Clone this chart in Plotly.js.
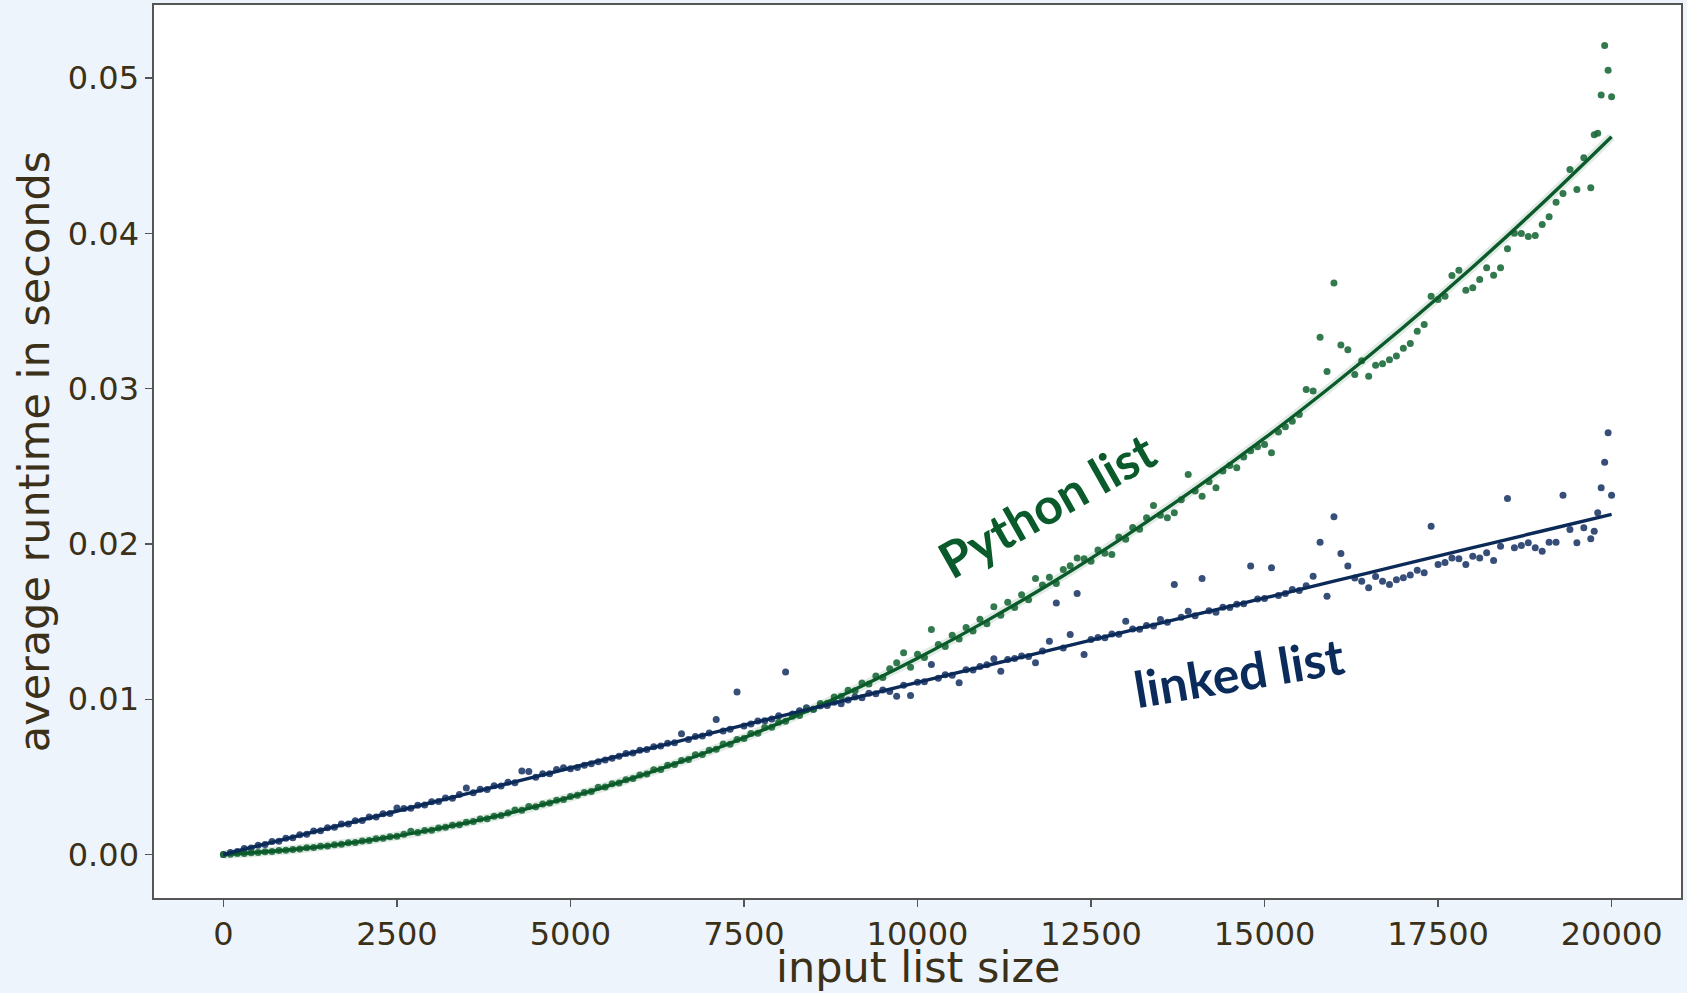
<!DOCTYPE html>
<html>
<head>
<meta charset="utf-8">
<script src="https://cdn.plot.ly/plotly-3.0.1.min.js"></script>
<style>
  html, body { margin: 0; padding: 0; background: #eef4fc; }
  #chart { width: 1687px; height: 993px; }
</style>
</head>
<body>
<div id="chart"></div>
<script>
// input list sizes (x values of the measured points)
const sizes = [
  0,100,200,300,400,500,600,700,800,900,
  1000,1100,1200,1300,1400,1500,1600,1700,1800,1900,
  2000,2100,2200,2300,2400,2500,2600,2700,2800,2900,
  3000,3100,3200,3300,3400,3500,3600,3700,3800,3900,
  4000,4100,4200,4300,4400,4500,4600,4700,4800,4900,
  5000,5100,5200,5300,5400,5500,5600,5700,5800,5900,
  6000,6100,6200,6300,6400,6500,6600,6700,6800,6900,
  7000,7100,7200,7300,7400,7500,7600,7700,7800,7900,
  8000,8100,8200,8300,8400,8500,8600,8700,8800,8900,
  9000,9100,9200,9300,9400,9500,9600,9700,9800,9900,
  10000,10100,10200,10300,10400,10500,10600,10700,10800,10900,
  11000,11100,11200,11300,11400,11500,11600,11700,11800,11900,
  12000,12100,12200,12300,12400,12500,12600,12700,12800,12900,
  13000,13100,13200,13300,13400,13500,13600,13700,13800,13900,
  14000,14100,14200,14300,14400,14500,14600,14700,14800,14900,
  15000,15100,15200,15300,15400,15500,15600,15700,15800,15900,
  16000,16100,16200,16300,16400,16500,16600,16700,16800,16900,
  17000,17100,17200,17300,17400,17500,17600,17700,17800,17900,
  18000,18100,18200,18300,18400,18500,18600,18700,18800,18900,
  19000,19100,19200,19300,19400,19500,19600,19700,
  19750,19800,19850,19900,19950,20000
];

// average runtime (s), Python list
const pythonList = [
  0.00000,0.00002,0.00006,0.00007,0.00012,0.00013,0.00018,0.00019,0.00026,0.00027,
  0.00033,0.00035,0.00043,0.00045,0.00053,0.00055,0.00063,0.00066,0.00075,0.00078,
  0.00087,0.00090,0.00101,0.00104,0.00114,0.00118,0.00130,0.00149,0.00141,0.00154,
  0.00157,0.00171,0.00175,0.00189,0.00192,0.00207,0.00212,0.00228,0.00231,0.00247,
  0.00252,0.00268,0.00286,0.00285,0.00309,0.00307,0.00325,0.00331,0.00349,0.00355,
  0.00374,0.00381,0.00399,0.00406,0.00433,0.00434,0.00455,0.00460,0.00482,0.00489,
  0.00512,0.00518,0.00545,0.00548,0.00574,0.00579,0.00606,0.00611,0.00642,0.00644,
  0.00672,0.00677,0.00712,0.00710,0.00741,0.00747,0.00779,0.00781,0.00818,0.00820,
  0.00852,0.00858,0.00890,0.00895,0.00932,0.00936,0.00972,0.00974,0.01015,0.01017,
  0.01058,0.01055,0.01105,0.01098,0.01150,0.01140,0.01196,0.01234,0.01299,0.01205,
  0.01290,0.01268,0.01449,0.01352,0.01340,0.01412,0.01388,0.01461,0.01440,0.01515,
  0.01486,0.01595,0.01540,0.01625,0.01590,0.01672,0.01640,0.01777,0.01735,0.01785,
  0.01745,0.01835,0.01860,0.01910,0.01905,0.01888,0.01960,0.01940,0.01932,0.02045,
  0.02030,0.02105,0.02095,0.02168,0.02247,0.02185,0.02168,0.02200,0.02285,0.02447,
  0.02340,0.02307,0.02400,0.02361,0.02470,0.02505,0.02490,0.02560,0.02600,0.02625,
  0.02640,0.02587,0.02720,0.02755,0.02790,0.02833,0.02995,0.02985,0.03330,0.03110,
  0.03680,0.03280,0.03250,0.03090,0.03180,0.03080,0.03150,0.03160,0.03185,0.03210,
  0.03260,0.03290,0.03370,0.03413,0.03595,0.03574,0.03595,0.03728,0.03762,0.03634,
  0.03650,0.03703,0.03778,0.03730,0.03778,0.03900,0.04000,0.03999,0.03980,0.03986,
  0.04057,0.04106,0.04200,0.04256,0.04410,0.04282,0.04486,0.04293,
  0.04635,0.04645,0.04890,0.05210,0.05050,0.04880
];

// average runtime (s), linked list
const linkedList = [
  0.00000,0.00013,0.00020,0.00038,0.00042,0.00060,0.00064,0.00083,0.00086,0.00104,
  0.00108,0.00128,0.00131,0.00152,0.00153,0.00172,0.00175,0.00196,0.00197,0.00218,
  0.00219,0.00241,0.00242,0.00263,0.00264,0.00300,0.00296,0.00298,0.00318,0.00319,
  0.00340,0.00341,0.00364,0.00363,0.00386,0.00429,0.00398,0.00420,0.00419,0.00442,
  0.00441,0.00466,0.00462,0.00537,0.00535,0.00498,0.00520,0.00520,0.00548,0.00558,
  0.00552,0.00560,0.00575,0.00585,0.00597,0.00608,0.00620,0.00632,0.00650,0.00654,
  0.00672,0.00676,0.00694,0.00698,0.00717,0.00719,0.00777,0.00741,0.00760,0.00763,
  0.00782,0.00869,0.00795,0.00806,0.01047,0.00828,0.00840,0.00860,0.00862,0.00872,
  0.00893,0.01176,0.00905,0.00926,0.00945,0.00935,0.00958,0.00960,0.00981,0.00970,
  0.00995,0.01015,0.01010,0.01038,0.01035,0.01060,0.01050,0.01019,0.01090,0.01024,
  0.01110,0.01112,0.01223,0.01135,0.01158,0.01155,0.01106,0.01190,0.01188,0.01210,
  0.01222,0.01260,0.01180,0.01255,0.01262,0.01278,0.01275,0.01234,0.01310,0.01374,
  0.01620,0.01330,0.01417,0.01680,0.01288,0.01385,0.01398,0.01395,0.01420,0.01418,
  0.01502,0.01452,0.01450,0.01474,0.01472,0.01513,0.01495,0.01739,0.01528,0.01567,
  0.01538,0.01777,0.01570,0.01560,0.01592,0.01590,0.01612,0.01615,0.01857,0.01645,
  0.01648,0.01846,0.01668,0.01680,0.01706,0.01700,0.01730,0.01792,0.02010,0.01663,
  0.02175,0.01938,0.01857,0.01780,0.01760,0.01717,0.01790,0.01760,0.01739,0.01770,
  0.01782,0.01800,0.01830,0.01814,0.02114,0.01867,0.01880,0.01910,0.01905,0.01867,
  0.01920,0.01910,0.01943,0.01893,0.01985,0.02292,0.01975,0.01990,0.02007,0.01975,
  0.01953,0.02010,0.02010,0.02314,0.02093,0.02007,0.02104,0.02033,
  0.02082,0.02200,0.02361,0.02526,0.02715,0.02314
];

// fitted curves
const fitSizes = [0,1000,2000,3000,4000,5000,6000,7000,8000,9000,10000,
                  11000,12000,13000,14000,15000,16000,17000,18000,19000,20000];
const pythonFit = [0,0.00032,0.00085,0.00159,0.00254,0.00370,0.00507,0.00665,0.00844,0.01043,0.01264,
                   0.01506,0.01768,0.02052,0.02356,0.02681,0.03028,0.03395,0.03783,0.04192,0.04622];
const linkedFit = [0,0.00112,0.00224,0.00335,0.00446,0.00557,0.00668,0.00778,0.00888,0.00998,0.01108,
                   0.01217,0.01326,0.01435,0.01544,0.01652,0.01760,0.01868,0.01976,0.02083,0.02190];

// axes
const xTickVals = [0,2500,5000,7500,10000,12500,15000,17500,20000];
const xTickText = ['0','2500','5000','7500','10000','12500','15000','17500','20000'];
const yTickVals = [0,0.01,0.02,0.03,0.04,0.05];
const yTickText = ['0.00','0.01','0.02','0.03','0.04','0.05'];

// labels
const seriesLabels = ['Python list', 'linked list'];
const xTitle = 'input list size';
const yTitle = 'average runtime in seconds';

const GREEN_PT = '#1d6a3b', GREEN_LN = '#0b5a2a', GREEN_TXT = '#0b5a2b';
const NAVY_PT = '#203b69', NAVY_LN = '#0c2a58', NAVY_TXT = '#0b2c5a';
const TXT = '#3b3018';

const traces = [
  { x: fitSizes, y: pythonFit, mode: 'lines', line: {color: 'rgba(11,90,42,0.12)', width: 9, shape: 'spline'}, hoverinfo: 'skip', showlegend: false },
  { x: sizes, y: linkedList, mode: 'markers', name: seriesLabels[1],
    marker: {color: NAVY_PT, size: 7, opacity: 0.9, line: {width: 0}}, showlegend: false },
  { x: sizes, y: pythonList, mode: 'markers', name: seriesLabels[0],
    marker: {color: GREEN_PT, size: 7, opacity: 0.9, line: {width: 0}}, showlegend: false },
  { x: fitSizes, y: pythonFit, mode: 'lines', line: {color: GREEN_LN, width: 3.4, shape: 'spline'}, showlegend: false },
  { x: fitSizes, y: linkedFit, mode: 'lines', line: {color: NAVY_LN, width: 3.4, shape: 'spline'}, showlegend: false }
];

const layout = {
  width: 1687, height: 993,
  paper_bgcolor: '#eef4fc',
  plot_bgcolor: '#ffffff',
  margin: {l: 154, r: 6, t: 5, b: 95, pad: 0},
  showlegend: false,
  font: {family: 'DejaVu Sans, sans-serif', color: TXT, size: 32},
  xaxis: {
    range: [-1000, 21000],
    tickmode: 'array', tickvals: xTickVals, ticktext: xTickText,
    ticks: 'outside', ticklen: 7, tickwidth: 1.2, tickcolor: '#555',
    showline: true, linecolor: '#555', linewidth: 1.6, mirror: true,
    showgrid: false, zeroline: false,
    tickfont: {family: 'DejaVu Sans', size: 32, color: TXT}
  },
  yaxis: {
    range: [-0.0028, 0.0547],
    tickmode: 'array', tickvals: yTickVals, ticktext: yTickText,
    ticks: 'outside', ticklen: 7, tickwidth: 1.2, tickcolor: '#555',
    showline: true, linecolor: '#555', linewidth: 1.6, mirror: true,
    showgrid: false, zeroline: false,
    tickfont: {family: 'DejaVu Sans', size: 32, color: TXT},
    title: {text: yTitle, font: {family: 'DejaVu Sans', size: 43, color: TXT}, standoff: 5}
  },
  annotations: [
    { x: 0.5, y: -0.1064, xref: 'paper', yref: 'paper', text: xTitle,
      showarrow: false, xanchor: 'center', yanchor: 'bottom', borderpad: 0,
      font: {family: 'DejaVu Sans', size: 43, color: TXT} },
    { x: 11856, y: 0.02252, xref: 'x', yref: 'y', text: '<b>' + seriesLabels[0] + '</b>',
      showarrow: false, textangle: -29.5, xanchor: 'center', yanchor: 'middle',
      font: {family: 'Lato, sans-serif', size: 50, color: GREEN_TXT} },
    { x: 14637, y: 0.01175, xref: 'x', yref: 'y', text: '<b>' + seriesLabels[1] + '</b>',
      showarrow: false, textangle: -9.5, xanchor: 'center', yanchor: 'middle',
      font: {family: 'Lato, sans-serif', size: 50, color: NAVY_TXT} }
  ]
};

Plotly.newPlot('chart', traces, layout, {staticPlot: true, displayModeBar: false});
</script>
</body>
</html>
